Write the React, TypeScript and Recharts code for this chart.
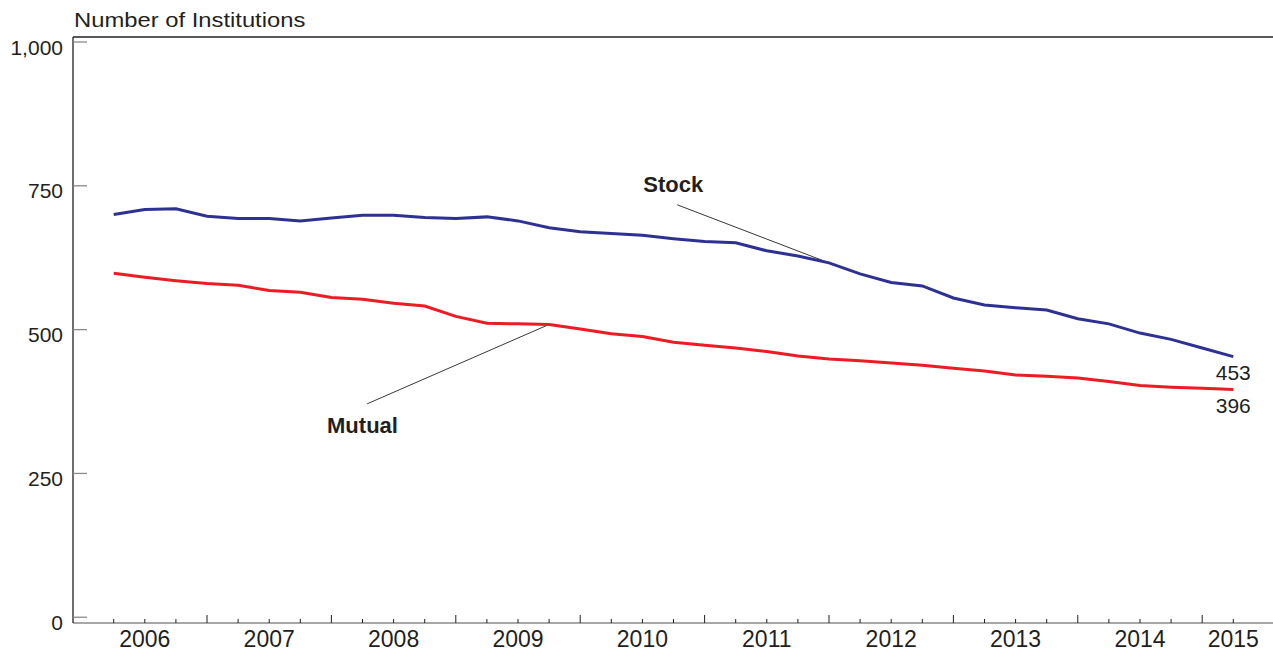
import React from 'react'
import { LineChart, Line, XAxis, YAxis, ReferenceLine, ReferenceDot } from 'recharts'

// quarterly, 2006 Q1 .. 2015 Q1
const quarters = [
  '2006Q1', '2006Q2', '2006Q3', '2006Q4', '2007Q1', '2007Q2', '2007Q3', '2007Q4',
  '2008Q1', '2008Q2', '2008Q3', '2008Q4', '2009Q1', '2009Q2', '2009Q3', '2009Q4',
  '2010Q1', '2010Q2', '2010Q3', '2010Q4', '2011Q1', '2011Q2', '2011Q3', '2011Q4',
  '2012Q1', '2012Q2', '2012Q3', '2012Q4', '2013Q1', '2013Q2', '2013Q3', '2013Q4',
  '2014Q1', '2014Q2', '2014Q3', '2014Q4', '2015Q1',
]

const stock = [
  700, 709, 710, 697, 693, 693, 689, 694, 699, 699, 695, 693, 696, 689, 677, 670,
  667, 664, 658, 653, 651, 637, 628, 616, 597, 582, 576, 555, 543, 538, 534, 519,
  510, 494, 483, 468, 453,
]

const mutual = [
  598, 591, 585, 580, 577, 568, 565, 556, 553, 546, 541, 523, 511, 510, 509, 501,
  493, 488, 478, 473, 468, 462, 454, 449, 446, 442, 438, 433, 428, 421, 419, 416,
  410, 403, 400, 398, 396,
]

const years = ['2006', '2007', '2008', '2009', '2010', '2011', '2012', '2013', '2014', '2015']
const yearLabelAt = [1, 5, 9, 13, 17, 21, 25, 29, 33, 36]
const yTicks = [0, 250, 500, 750, 1000]

const data = quarters.map((q, i) => ({ i, q, stock: stock[i], mutual: mutual[i] }))
const xTicks = quarters.map((_, i) => i)

const INK = '#231F20'
const BLUE = '#2E3192'
const RED = '#ED1C24'
const FONT = '"Liberation Sans", Arial, Helvetica, sans-serif'
const Y_MIN = -10
const Y_MAX = 1008.7

function XTick(props: any) {
  const { x, y, payload } = props
  const i = payload.value
  const major = (i + 1) % 4 === 0
  const li = yearLabelAt.indexOf(i)
  return (
    <g>
      <line x1={x} x2={x} y1={y} y2={y - (major ? 8 : 4)} stroke={INK} strokeWidth={1} />
      {li >= 0 && (
        <text x={x} y={y + 23.5} textAnchor="middle" fontSize={23} fontFamily={FONT} fill={INK}>
          {years[li]}
        </text>
      )}
    </g>
  )
}

function YTick(props: any) {
  const { x, y, payload } = props
  return (
    <g>
      <line x1={x} x2={x + 14} y1={y} y2={y} stroke="#8a8a8a" strokeWidth={1.3} />
      <text x={x - 10} y={y + 12.5} textAnchor="end" fontSize={21} fontFamily={FONT} fill={INK}>
        {payload.value.toLocaleString('en-US')}
      </text>
    </g>
  )
}

const textShape = (label: string, dy: number, bold: boolean) => (p: any) => (
  <text
    x={p.cx}
    y={p.cy + dy}
    textAnchor="middle"
    fontSize={bold ? 22 : 21}
    fontWeight={bold ? 'bold' : 'normal'}
    fontFamily={FONT}
    fill={INK}
  >
    {label}
  </text>
)

export default function App() {
  const last = quarters.length - 1
  return (
    <div style={{ position: 'fixed', left: 0, top: 0, width: 1273, height: 651, background: '#fff' }}>
      <svg width={1273} height={40} style={{ position: 'absolute', left: 0, top: 0 }}>
        <text
          transform="translate(74,27.3) scale(1.19,1)"
          fontSize={20}
          fontFamily={FONT}
          fill={INK}
        >
          Number of Institutions
        </text>
      </svg>
      <div style={{ position: 'absolute', left: 0, top: 0 }}>
        <LineChart width={1273} height={651} data={data} margin={{ top: 37, right: 0, bottom: 0, left: 0 }}>
          <XAxis
            dataKey="i"
            type="number"
            domain={[-1.309, 37.277]}
            allowDataOverflow
            ticks={xTicks}
            interval={0}
            height={28}
            tickSize={0}
            tickMargin={0}
            tickLine={false}
            axisLine={{ stroke: '#8a8a8a', strokeWidth: 1.5 }}
            tick={<XTick />}
          />
          <YAxis
            type="number"
            domain={[Y_MIN, Y_MAX]}
            allowDataOverflow
            ticks={yTicks}
            interval={0}
            width={73}
            tickSize={0}
            tickMargin={0}
            tickLine={false}
            axisLine={{ stroke: INK, strokeWidth: 1.3 }}
            tick={<YTick />}
          />
          <ReferenceLine y={Y_MAX} stroke={INK} strokeWidth={1.3} ifOverflow="visible" />

          {/* leader lines */}
          <ReferenceLine
            segment={[{ x: 18.12, y: 717 }, { x: 23, y: stock[23] }]}
            stroke={INK}
            strokeWidth={0.9}
            ifOverflow="visible"
          />
          <ReferenceLine
            segment={[{ x: 8.15, y: 371 }, { x: 14, y: mutual[14] }]}
            stroke={INK}
            strokeWidth={0.9}
            ifOverflow="visible"
          />

          <Line type="linear" dataKey="mutual" stroke={RED} strokeWidth={3} dot={false} isAnimationActive={false} />
          <Line type="linear" dataKey="stock" stroke={BLUE} strokeWidth={3} dot={false} isAnimationActive={false} />

          <ReferenceDot x={17.99} y={740} r={0} shape={textShape('Stock', 0, true)} />
          <ReferenceDot x={8.0} y={320.4} r={0} shape={textShape('Mutual', 0, true)} />
          <ReferenceDot x={last} y={stock[last]} r={0} shape={textShape(String(stock[last]), 23.7, false)} />
          <ReferenceDot x={last} y={mutual[last]} r={0} shape={textShape(String(mutual[last]), 24, false)} />
        </LineChart>
      </div>
    </div>
  )
}
